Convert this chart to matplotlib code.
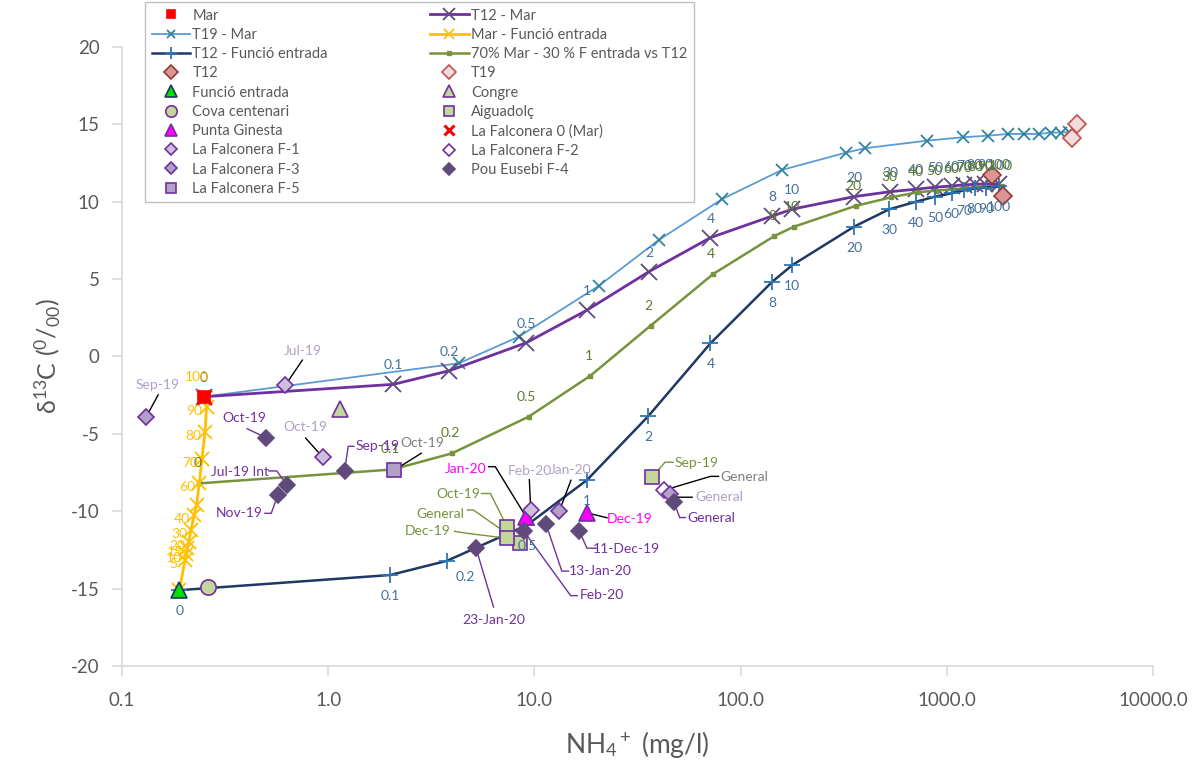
import numpy as np
import matplotlib
matplotlib.use('Agg')
import matplotlib.pyplot as plt

plt.rcParams['font.family'] = ['Lato', 'DejaVu Sans']
plt.rcParams['mathtext.fontset'] = 'custom'
plt.rcParams['mathtext.rm'] = 'Lato'
plt.rcParams['mathtext.it'] = 'Lato:italic'
plt.rcParams['mathtext.bf'] = 'Lato:bold'
plt.rcParams['axes.unicode_minus'] = False

# ---- end members / samples : NH4+ (mg/l), d13C (permil)
mar_x, mar_y = [0.25], [-2.6]
falc0_x, falc0_y = [0.25], [-2.6]
funcio_x, funcio_y = [0.19], [-15.1]
cova_x, cova_y = [0.26], [-14.9]
congre_x, congre_y = [1.14], [-3.4]
t12_x, t12_y = [1650, 1875], [11.7, 10.4]
t19_x, t19_y = [4030, 4280], [14.1, 15.0]

ginesta_x = [9.1, 18.0]
ginesta_y = [-10.35, -10.1]
ginesta_lab = ['Jan-20', 'Dec-19']

aigua_x = [37.2, 7.4, 8.55, 7.4]
aigua_y = [-7.8, -11.05, -12.05, -11.75]
aigua_lab = ['Sep-19', 'Oct-19', 'General', 'Dec-19']

f1_x = [0.62, 0.94, 9.6]
f1_y = [-1.85, -6.5, -9.9]
f1_lab = ['Jul-19', 'Oct-19', 'Feb-20']

f2_x = [42.3]
f2_y = [-8.65]
f2_lab = ['General']

f3_x = [0.131, 13.2, 45.7]
f3_y = [-3.9, -10.0, -8.9]
f3_lab = ['Sep-19', 'Jan-20', 'General']

f4_x = [0.50, 0.63, 0.57, 1.2, 5.2, 8.9, 11.4, 16.5, 47.4]
f4_y = [-5.25, -8.3, -8.95, -7.4, -12.35, -11.3, -10.85, -11.25, -9.4]
f4_lab = ['Oct-19', 'Jul-19 Int', 'Nov-19', 'Sep-19', '23-Jan-20', 'Feb-20',
          '13-Jan-20', '11-Dec-19', 'General']

f5_x = [2.09]
f5_y = [-7.35]
f5_lab = ['Oct-19']

# ---- mixing lines (% of the second end member)
mix_lab = ['0', '0.1', '0.2', '0.5', '1', '2', '4', '8', '10', '20', '30',
           '40', '50', '60', '70', '80', '90', '100']

t19mar_x = [0.25, 4.30, 8.4, 20.5, 40.1, 81.5, 159, 324, 401, 805, 1205,
            1588, 1973, 2372, 2806, 3200, 3575, 3910]
t19mar_y = [-2.6, -0.44, 1.28, 4.56, 7.53, 10.18, 12.06, 13.17, 13.46, 13.95,
            14.17, 14.27, 14.38, 14.38, 14.38, 14.47, 14.47, 14.5]

t12mar_x = [0.25, 2.07, 3.87, 9.14, 18.0, 35.9, 71.4, 142.6, 178, 355, 531,
            708, 878, 1057, 1213, 1368, 1528, 1794]
t12mar_y = [-2.6, -1.80, -0.92, 0.89, 3.0, 5.48, 7.68, 9.08, 9.52, 10.33,
            10.65, 10.81, 10.94, 11.02, 11.09, 11.13, 11.15, 11.15]

t12f_x = [0.19, 2.0, 3.77, 9.22, 18.0, 35.7, 71.4, 142.6, 178.3, 355, 525,
          708, 878, 1057, 1211, 1368, 1545, 1787]
t12f_y = [-15.1, -14.12, -13.2, -10.89, -7.98, -3.85, 0.85, 4.84, 5.91, 8.39,
          9.51, 10.0, 10.33, 10.55, 10.73, 10.86, 10.92, 10.99]

green_x = [0.237, 2.05, 3.98, 9.38, 18.7, 36.6, 73.6, 146, 181.6, 361, 538,
           721, 885, 1076, 1237, 1407, 1574, 1862]
green_y = [-8.2, -7.3, -6.26, -3.89, -1.24, 1.99, 5.33, 7.79, 8.39, 9.73,
           10.29, 10.61, 10.72, 10.81, 10.87, 10.94, 10.98, 11.02]

marf_x = [0.25, 0.257, 0.253, 0.244, 0.237, 0.230, 0.224, 0.216, 0.211,
          0.207, 0.205, 0.202, 0.19]
marf_y = [-2.6, -3.25, -4.86, -6.65, -8.2, -9.6, -10.25, -11.2, -11.97,
          -12.4, -12.79, -13.15, -15.1]
marf_lab = ['100', '90', '80', '70', '60', '', '40', '30', '20', '15', '10',
            '5', '']

y_ticks = [-20, -15, -10, -5, 0, 5, 10, 15, 20]
x_ticks = [0.1, 1, 10, 100, 1000, 10000]
x_ticklabels = ['0.1', '1.0', '10.0', '100.0', '1000.0', '10000.0']

# ---- figure
fig = plt.figure(figsize=(11.92, 7.6), dpi=100)
ax = fig.add_axes([122 / 1192, 1 - 666 / 760, (1153 - 122) / 1192, (666 - 47) / 760])
ax.set_xscale('log')
ax.set_xlim(0.1, 10000)
ax.set_ylim(-20, 20)

grey = '#595959'
axis_col = '#D9D9D9'
for s in ['top', 'right']:
    ax.spines[s].set_visible(False)
for s in ['left', 'bottom']:
    ax.spines[s].set_color(axis_col)
    ax.spines[s].set_linewidth(1.2)
ax.set_xticks(x_ticks)
ax.set_xticklabels(x_ticklabels)
ax.xaxis.set_minor_locator(matplotlib.ticker.NullLocator())
ax.set_yticks(y_ticks)
ax.tick_params(axis='both', colors=axis_col, labelcolor=grey, labelsize=13.5,
               length=7, width=1.2, direction='out')
ax.tick_params(axis='x', pad=12)
ax.tick_params(axis='y', pad=9)
ax.set_xlabel(r'NH$_4$$^+$ (mg/l)', fontsize=19, color=grey, labelpad=14)
ax.set_ylabel(r'δ$^{13}$C ($^{0}$/$_{00}$)', fontsize=18, color=grey, labelpad=6)

# ---- mixing lines
steel = '#44709C'
olive_lab = '#5E7A2C'
h_t19mar, = ax.plot(t19mar_x, t19mar_y, color='#5B9BD5', lw=1.3, marker='x',
                    ms=8, mec='#31849B', mew=1.3, zorder=2, label='T19 - Mar')
h_t12mar, = ax.plot(t12mar_x, t12mar_y, color='#7030A0', lw=2, marker='x',
                    ms=12, mec='#604A7B', mew=1.3, zorder=2, label='T12 - Mar')
h_green, = ax.plot(green_x, green_y, color='#77933C', lw=1.8, marker='s',
                   ms=3, mec='#77933C', mfc='#77933C', zorder=2,
                   label='70% Mar - 30 % F entrada vs T12')
h_t12f, = ax.plot(t12f_x, t12f_y, color='#1F3864', lw=1.8, marker='+',
                  ms=12, mec='#2E75B6', mew=1.3, zorder=2,
                  label='T12 - Funció entrada')
h_marf, = ax.plot(marf_x, marf_y, color='#FFC000', lw=2, marker='x',
                  ms=10, mec='#FFC000', mew=1.3, zorder=2,
                  label='Mar - Funció entrada')

lab_kw = dict(textcoords='offset pixels', ha='center', va='center',
              fontsize=10, zorder=5)
for x, y, t in zip(t12mar_x, t12mar_y, mix_lab):
    ax.annotate(t, (x, y), xytext=(0, 19), color=steel, **lab_kw)
for x, y, t in zip(green_x, green_y, mix_lab):
    ax.annotate(t, (x, y), xytext=(-2, 20), color=olive_lab, **lab_kw)
for x, y, t in zip(t12f_x, t12f_y, mix_lab):
    off = (18, -16) if t == '0.2' else (0, -21)
    ax.annotate(t, (x, y), xytext=off, color=steel, **lab_kw)
for i, (x, y, t) in enumerate(zip(marf_x, marf_y, marf_lab)):
    off = (-7, 20) if i == 0 else (-12, -4)
    ax.annotate(t, (x, y), xytext=off, color='#FFC000', **lab_kw)

# ---- samples
def pts(x, y, marker, ms, fc, ec, label, mew=1.2):
    h, = ax.plot(x, y, ls='none', marker=marker, ms=ms, mfc=fc, mec=ec,
                 mew=mew, zorder=4, label=label)
    return h

purple = '#7030A0'
h_t12 = pts(t12_x, t12_y, 'D', 9, '#D99694', '#953735', 'T12')
h_t19 = pts(t19_x, t19_y, 'D', 9, '#F2DCDB', '#C0504D', 'T19')
h_funcio = pts(funcio_x, funcio_y, '^', 11, '#00E000', '#1F3864', 'Funció entrada')
h_congre = pts(congre_x, congre_y, '^', 11, '#C4D79B', purple, 'Congre')
h_cova = pts(cova_x, cova_y, 'o', 11, '#C4D79B', purple, 'Cova centenari')
h_aigua = pts(aigua_x, aigua_y, 's', 10, '#C4D79B', purple, 'Aiguadolç')
h_ginesta = pts(ginesta_x, ginesta_y, '^', 11, '#FF00FF', purple, 'Punta Ginesta')
h_f1 = pts(f1_x, f1_y, 'D', 8, '#CCC0DA', purple, 'La Falconera F-1')
h_f2 = pts(f2_x, f2_y, 'D', 8, 'white', purple, 'La Falconera F-2')
h_f3 = pts(f3_x, f3_y, 'D', 8, '#B1A0C7', purple, 'La Falconera F-3')
h_f4 = pts(f4_x, f4_y, 'D', 8, '#604A7B', '#604A7B', 'Pou Eusebi F-4')
h_f5 = pts(f5_x, f5_y, 's', 10, '#B1A0C7', purple, 'La Falconera F-5')
h_mar = pts(mar_x, mar_y, 's', 8.5, '#FF0000', '#FF0000', 'Mar')
h_falc0 = pts(falc0_x, falc0_y, 'x', 10, 'none', '#FF0000',
              'La Falconera 0 (Mar)', mew=2.2)

# ---- sample labels with leader lines (offsets in pixels, y down)
def leader(x, y, path, color):
    p = ax.transData.transform((x, y))
    disp = [p] + [p + np.array([dx, -dy]) for dx, dy in path]
    d = ax.transData.inverted().transform(np.array(disp))
    ax.plot(d[:, 0], d[:, 1], color=color, lw=1, zorder=3)

def tag(x, y, t, lab, path, tcol, lcol):
    if path:
        leader(x, y, path, lcol)
    ax.annotate(t, (x, y), xytext=(lab[0], -lab[1]), color=tcol, **lab_kw)

f4_place = [((-22, -20), [(-19, -9)]),
            ((-47, -13), [(-10, -14), (-18, -14)]),
            ((-39, 18), [(-6.6, 18.3), (-13, 18.3)]),
            ((33, -25), [(3.7, -24.7), (9.3, -24.7)]),
            ((18, 72), [(17.7, 59.4)]),
            ((78, 64), [(46.7, 64.3), (53.3, 64.3)]),
            ((54, 47), [(15.7, 46.7), (22.3, 46.7)]),
            ((47, 18), [(7.7, 17.6), (17.7, 17.6)]),
            ((38, 16), [(6, 15.6), (11.7, 15.6)])]
f1_place = [((17, -34), [(17, -25)]),
            ((-17, -30), [(-17, -19)]),
            ((-1, -39), [(-1.4, -30)])]
f2_place = [((81, -13), [(47, -14), (55, -14)])]
f3_place = [((11, -32), [(12, -22)]),
            ((11, -41), [(11.7, -31)]),
            ((49, 3), [(8, 3), (21.7, 3)])]
f5_place = [((28, -27), [(27, -17)])]
aigua_place = [((45, -14), [(13, -15), (21, -15)]),
               ((-49, -33), [(-17, -34), (-26, -34)]),
               ((-80, -29), [(-47, -33), (-53, -33)]),
               ((-80, -7), [(-40, -5), (-53, -7)])]
ginesta_place = [((-60, -48), [(-30.7, -50), (-37.4, -50)]),
                 ((43, 6), [(20, 5)])]

series = [(f4_x, f4_y, f4_lab, f4_place, purple, purple),
          (f1_x, f1_y, f1_lab, f1_place, '#B1A0C7', 'black'),
          (f2_x, f2_y, f2_lab, f2_place, '#7F7F7F', 'black'),
          (f3_x, f3_y, f3_lab, f3_place, '#B1A0C7', 'black'),
          (f5_x, f5_y, f5_lab, f5_place, '#7F7F7F', 'black'),
          (aigua_x, aigua_y, aigua_lab, aigua_place, '#77933C', '#77933C'),
          (ginesta_x, ginesta_y, ginesta_lab, ginesta_place, '#FF00FF', 'black')]
for xs, ys, labs, place, tcol, lcol in series:
    for x, y, t, (lab, path) in zip(xs, ys, labs, place):
        tag(x, y, t, lab, path, tcol, lcol)

# ---- legend (Excel order, row major -> two columns)
col1 = [h_mar, h_t19mar, h_t12f, h_t12, h_funcio, h_cova, h_ginesta, h_f1, h_f3, h_f5]
col2 = [h_t12mar, h_marf, h_green, h_t19, h_congre, h_aigua, h_falc0, h_f2, h_f4]
handles = col1 + col2
leg = fig.legend(handles=handles, labels=[h.get_label() for h in handles],
                 ncol=2, loc='upper left',
                 bbox_to_anchor=(145 / 1192, 1 - 2 / 760),
                 fontsize=10.5, frameon=True, fancybox=False,
                 edgecolor='#BFBFBF', framealpha=1, borderpad=0.45,
                 borderaxespad=0, markerscale=0.75,
                 labelspacing=0.36, handlelength=2.65, handletextpad=0.15,
                 columnspacing=7.0, numpoints=1)
leg.get_frame().set_linewidth(1)
for t in leg.get_texts():
    t.set_color(grey)

fig.savefig('out.png', dpi=100)
